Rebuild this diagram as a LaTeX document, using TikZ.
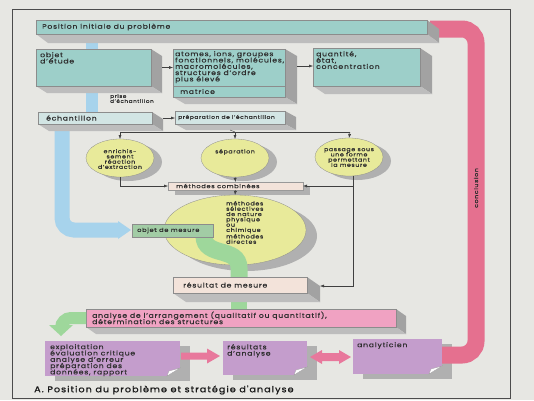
\documentclass[tikz,border=0pt]{standalone}
\usepackage{fontspec}
\setmainfont{Poppins}[FakeStretch=1.18, LetterSpace=12, FakeBold=0.6]
\newfontfamily\capfont{Poppins}[FakeStretch=1.15, LetterSpace=12, FakeBold=1.2]
\usetikzlibrary{arrows.meta,calc,shapes.geometric}
\lineskiplimit=-50pt
\lineskip=0pt
\definecolor{bg}{HTML}{E7E7E3}
\definecolor{tealc}{HTML}{9DCFC9}
\definecolor{palec}{HTML}{D2E5E4}
\definecolor{sidec}{HTML}{A2A2A2}
\definecolor{botc}{HTML}{BDBDBD}
\definecolor{shadc}{HTML}{B0B0B0}
\definecolor{yel}{HTML}{E8EA9A}
\definecolor{beige}{HTML}{F3E3DA}
\definecolor{mgreen}{HTML}{A2CCA5}
\definecolor{bband}{HTML}{A7D3EC}
\definecolor{gband}{HTML}{9ED79B}
\definecolor{pinkbox}{HTML}{F0A2C2}
\definecolor{redb}{HTML}{E5708F}
\definecolor{pinkarr}{HTML}{E8789C}
\definecolor{lilac}{HTML}{C49DCC}
\definecolor{txt}{HTML}{2E2E2E}
\definecolor{lin}{HTML}{404040}
\tikzset{
  front/.style={draw=black!45, line width=0.3pt, inner sep=0pt, outer sep=0pt},
  tx/.style={font={\fontsize{6.5}{6.3}\selectfont\lineskiplimit=-50pt}, text=txt, inner sep=0pt, align=left},
  sm/.style={font={\fontsize{5.3}{5.2}\selectfont\lineskiplimit=-50pt}, text=txt, inner sep=0pt},
  arr/.style={draw=lin, line width=0.45pt, -{Latex[length=4pt,width=3pt]}},
  ln/.style={draw=lin, line width=0.45pt},
  ell/.style={shape=ellipse, fill=yel, draw=black!45, line width=0.3pt, inner sep=0pt, outer sep=0pt},
}
\newcommand{\tdbox}[8]{%
  \fill[sidec] (#4,#3) -- (#4+#6,#3+#7) -- (#4+#6,#5+#7) -- (#4,#5) -- cycle;
  \fill[botc] (#2,#5) -- (#4,#5) -- (#4+#6,#5+#7) -- (#2+#6,#5+#7) -- cycle;
  \node[front, fill=#8, minimum width={(#4-#2)*1pt}, minimum height={(#5-#3)*1pt}] (#1) at ({(#2+#4)/2},{(#3+#5)/2}) {};
}
\newcommand{\pshadow}[4]{\fill[shadc] (#1+10,#2+5) rectangle (#3+10,#4+5);}
\newcommand{\pfront}[5]{%
  \node[front, draw=none, fill=lilac, minimum width={(#4-#2)*1pt}, minimum height={(#5-#3)*1pt}] (#1) at ({(#2+#4)/2},{(#3+#5)/2}) {};
  \fill[shadc] (#4-13,#5) -- (#4,#5-8) -- (#4,#5) -- cycle;
  \filldraw[fill=white, draw=black!40, line width=0.25pt] (#4-13,#5) -- (#4,#5-8) -- (#4-11,#5-5) -- cycle;
}
\begin{document}
\begin{tikzpicture}[x=1pt,y=-1pt]
\useasboundingbox (0,0) rectangle (534,400);
\fill[bg] (0,0) rectangle (534,400);
\draw[black!70, line width=0.6pt] (12,9) rectangle (510,398);

% shadows of bottom boxes
\pshadow{45}{341}{180}{376}
\pshadow{223}{341}{307}{375}
\pshadow{353}{339}{442}{374}

% red conclusion band
\draw[redb, line width=17pt, rounded corners=14pt] (430,29) -- (476,29) -- (476,355) -- (440,355);
\node[sm, rotate=90] (concl) at (476,188) {conclusion};

% blue bands
\draw[bband, line width=12pt] (92,34) -- (92,50);
\draw[bband, line width=12pt] (92,86) -- (92,112);
\draw[bband, line width=15pt, rounded corners=12pt] (62,124) -- (62,230) -- (119,230);
\fill[bband] (118,221) -- (131,230) -- (118,239) -- cycle;

% upper boxes
\tdbox{T}{36}{20}{427}{34}{12}{9}{tealc}
\node[tx, anchor=west] (Tt) at (42,27) {Position initiale du problème};
\tdbox{O}{36}{49}{151}{86}{11}{7}{tealc}
\node[tx, anchor=north west] (Ot) at (40,52) {objet\\d'étude};
\tdbox{A}{173}{49}{285}{97}{12}{7}{tealc}
\draw[black!45, line width=0.3pt] (A.west |- 0,86) -- (A.east |- 0,86);
\node[tx, anchor=north west] (At) at (175,51) {atomes, ions, groupes\\fonctionnels, molécules,\\macromolécules,\\structures d'ordre\\plus élevé};
\node[tx, anchor=west] (Am) at (180,91.5) {matrice};
\tdbox{Q}{313}{48}{420}{86}{12}{8}{tealc}
\node[tx, anchor=north west] (Qt) at (316,51) {quantité,\\état,\\concentration};
\node[sm, anchor=north west, align=left, font={\fontsize{4.8}{5}\selectfont\lineskiplimit=-50pt}] (pe) at (110,94) {prise\\d'échantillon};
\tdbox{E}{38}{112}{152}{124}{11}{7}{palec}
\node[tx, anchor=west] (Et) at (46,118) {échantillon};
\tdbox{P}{175}{111}{285}{124}{11}{6}{palec}
\node[sm, anchor=west, font=\fontsize{5}{5.5}\selectfont] (Pt) at (178,117.5) {préparation de l'échantillon};

\draw[arr] ([xshift=11pt]O.east) -- (A.west |- O.east);
\draw[arr] (297,66) -- (Q.west |- 0,66);
\draw[arr] ([xshift=11pt]E.east) -- (P.west |- E.east);

% ellipses
\fill[shadc] (128,162) ellipse [x radius=34, y radius=19];
\fill[shadc] (243,162) ellipse [x radius=34, y radius=19];
\fill[shadc] (357,161) ellipse [x radius=34, y radius=19];
\node[ell, minimum width=68pt, minimum height=38pt] (E1) at (120,158) {};
\node[ell, minimum width=68pt, minimum height=38pt] (E2) at (235,158) {};
\node[ell, minimum width=68pt, minimum height=38pt] (E3) at (349,157) {};
\node[sm, align=center] (E1t) at (120,159) {enrichis-\\sement\\réaction\\d'extraction};
\node[sm] (E2t) at (235,152) {séparation};
\node[sm, align=center] (E3t) at (349,157.5) {passage sous\\une forme\\permettant\\la mesure};

\coordinate (sp) at (235,132);
\draw[ln] ([yshift=-6pt]P.south) -- (sp);
\draw[ln] (120,132) -- (350,132);
\draw[arr] (120,132) -- (E1.north);
\draw[arr] (sp) -- (E2.north);
\draw[arr] (350,132) -- (E3.north);

% methodes combinees
\fill[shadc] (175,187) rectangle (310,195);
\node[front, fill=beige, draw=black!40, minimum width=135pt, minimum height=8pt] (MC) at (235.5,186) {};
\node[sm, anchor=west, font=\fontsize{5.6}{5.5}\selectfont] (MCt) at (176,186) {méthodes combinées};
\draw[arr] (E1.south) |- (MC.west);
\draw[arr] (E2.south) -- (MC.north);
\coordinate (e3b) at (353,176);
\draw[arr] (e3b) |- (MC.east);

% big ellipse
\fill[shadc] (246,236) ellipse [x radius=71, y radius=35];
\node[ell, minimum width=142pt, minimum height=70pt] (BE) at (235,230) {};
\draw[arr] (MC.south) -- (BE.north);
\node[sm, anchor=north west, align=left, font={\fontsize{5.4}{5.3}\selectfont\lineskiplimit=-50pt}] (BEt) at (226,201) {méthodes\\sélectives\\de nature\\physique\\ou\\chimique\\[1.2pt]méthodes\\directes};

% green band objet de mesure -> resultat
\draw[gband, line width=17pt] (204,236) .. controls (204,258) and (239,246) .. (239,268) -- (239,278);
\node[front, fill=mgreen, draw=black!45, minimum width=81pt, minimum height=13pt] (OM) at (172.5,230.5) {};
\node[sm, anchor=west, font=\fontsize{5.6}{5.5}\selectfont] (OMt) at (137,230.5) {objet de mesure};

% resultat de mesure
\draw[gband, line width=16pt] (239,292) -- (239,310);
\tdbox{R}{173}{277}{307}{293}{13}{9}{beige}
\node[tx, anchor=west] (Rt) at (183,285) {résultat de mesure};
\draw[arr] (e3b) |- ([xshift=13pt,yshift=-1pt]R.east);

% analyse pink
\tdbox{AN}{86}{309}{396}{327}{10}{7}{pinkbox}
\node[tx, anchor=north west] (ANt) at (92,311.5) {analyse de l'arrangement (qualitatif ou quantitatif),\\détermination des structures};
\draw[gband, line width=12pt, rounded corners=10pt] (86,318) -- (61,318) -- (61,326);
\fill[gband] (49,325) -- (73,325) -- (61,336) -- cycle;

% bottom purple boxes
\pfront{X}{45}{341}{180}{376}
\node[tx, anchor=north west] (Xt) at (50,344) {exploitation\\évaluation critique\\analyse d'erreur\\préparation des\\données, rapport};
\pfront{RA}{223}{341}{307}{375}
\node[tx, anchor=north west] (RAt) at (227,344) {résultats\\d'analyse};
\pfront{AY}{353}{339}{442}{374}
\node[tx, anchor=north west] (AYt) at (357,342) {analyticien};

% pink arrows
\fill[pinkarr] (181,352.5) -- (207,352.5) -- (207,348.5) -- (220,356) -- (207,363.5) -- (207,359.5) -- (181,359.5) -- cycle;
\fill[pinkarr] (310,357) -- (322,350) -- (322,353) -- (339,353) -- (339,350) -- (351,357) -- (339,364) -- (339,361) -- (322,361) -- (322,364) -- cycle;

% caption
\node[anchor=west, inner sep=0pt, font=\capfont\fontsize{8.4}{9}\selectfont, text=black!90] (cap) at (34,390) {A. Position du problème et stratégie d'analyse};
\end{tikzpicture}
\end{document}
